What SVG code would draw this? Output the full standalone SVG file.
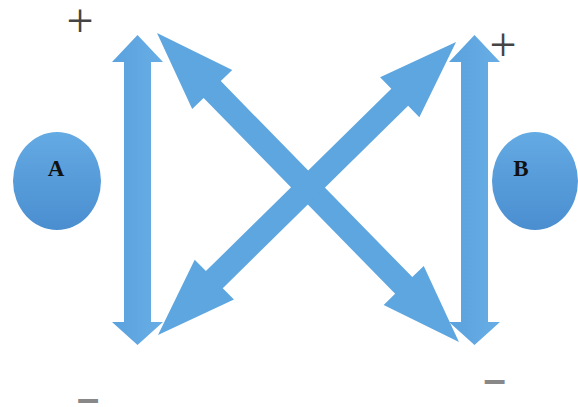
<svg xmlns="http://www.w3.org/2000/svg" width="578" height="407" viewBox="0 0 578 407">
  <defs>
    <linearGradient id="nodeGrad" x1="0" y1="0" x2="0" y2="1">
      <stop offset="0" stop-color="#64aae3"/>
      <stop offset="1" stop-color="#4a8ed0"/>
    </linearGradient>
    <linearGradient id="vertGrad" x1="0" y1="0" x2="1" y2="0">
      <stop offset="0" stop-color="#5aa2de"/>
      <stop offset="1" stop-color="#68ade5"/>
    </linearGradient>
  </defs>
  <style>
    .arrow { fill: #5ea6e0; }
    .varrow { fill: url(#vertGrad); }
    .node { fill: url(#nodeGrad); }
    .label { font-family: "Liberation Serif", "Times New Roman", serif; font-weight: bold; font-size: 23px; fill: #111; text-anchor: middle; }
    .plus { font-family: "Liberation Serif", "Times New Roman", serif; font-size: 48px; fill: #444; text-anchor: middle; }
    .minus { font-family: "Liberation Sans", Arial, sans-serif; font-weight: bold; font-size: 40px; fill: #888; text-anchor: middle; }
  </style>
  <rect width="578" height="407" fill="#ffffff"/>

  <g id="connectors">
    <polygon class="varrow" points="137.5,35 163,62 151,62 151,322 163,322 137.5,345 112,322 124,322 124,62 112,62"/>
    <polygon class="varrow" points="474.5,35 500,62 488,62 488,322 500,322 474.5,345 449,322 461,322 461,62 449,62"/>
    <polygon class="arrow" transform="translate(157,33) rotate(45.66)" points="0,0 79,-28 79,-12 353,-12 353,-28 432,0 353,28 353,12 79,12 79,28"/>
    <polygon class="arrow" transform="translate(158,335) rotate(-44.52)" points="0,0 79,-28 79,-12 339,-12 339,-28 418,0 339,28 339,12 79,12 79,28"/>
  </g>

  <g id="nodeA">
    <ellipse class="node" cx="57" cy="181" rx="44" ry="49"/>
    <text class="label" x="56" y="176">A</text>
  </g>

  <g id="nodeB">
    <ellipse class="node" cx="535" cy="181" rx="43" ry="49"/>
    <text class="label" x="521" y="176">B</text>
  </g>

  <g id="signs">
    <text class="plus" x="80" y="37">+</text>
    <text class="plus" x="503" y="61">+</text>
    <text class="minus" x="88" y="412">–</text>
    <text class="minus" x="494.5" y="393">–</text>
  </g>
</svg>
